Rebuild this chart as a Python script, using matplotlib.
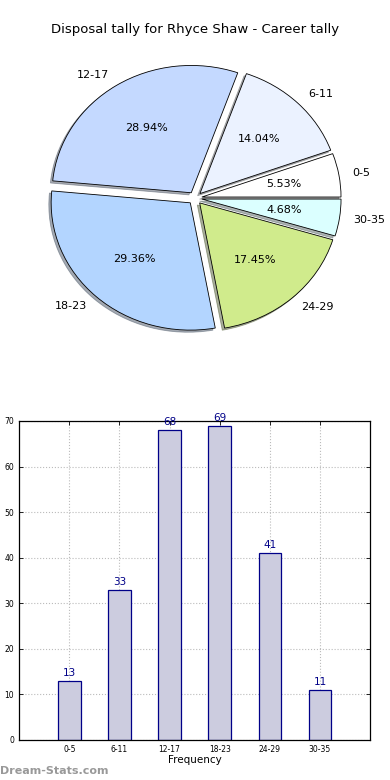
import matplotlib
matplotlib.use("Agg")
import matplotlib.pyplot as plt
import numpy as np

# Disposal bins and counts
bins = ["0-5", "6-11", "12-17", "18-23", "24-29", "30-35"]
counts = [13, 33, 68, 69, 41, 11]
pie_colors = ["#ffffff", "#ebf2ff", "#c4d9ff", "#b3d5ff", "#d0eb8c", "#dbffff"]

fig = plt.figure(figsize=(3.9, 7.8), dpi=100)

# Pie chart
ax1 = fig.add_axes([0.054, 0.542, 0.892, 0.408])
wedges, texts, autotexts = ax1.pie(
    counts, labels=bins, colors=pie_colors, explode=[0.05] * len(counts),
    autopct="%1.2f%%", startangle=0,
    shadow=dict(ox=-0.012, oy=-0.012, shade=0.6),
    wedgeprops=dict(edgecolor="black", linewidth=0.6),
    textprops=dict(fontsize=8),
)
ax1.set_aspect("auto")
fig.text(0.5, 0.962, "Disposal tally for Rhyce Shaw - Career tally",
         ha="center", va="center", fontsize=9.5)

# Bar chart
ax2 = fig.add_axes([0.049, 0.0513, 0.9, 0.409])
x = np.arange(len(bins))
ax2.bar(x, counts, width=0.45, color="#ccccdf", edgecolor="#000088",
        linewidth=0.9, zorder=2)
for xi, c in zip(x, counts):
    ax2.text(xi, c + 0.6, str(c), ha="center", va="bottom",
             color="#000088", fontsize=7.5)
ax2.set_xlim(-1, 6)
ax2.set_ylim(0, 70)
ax2.set_xticks(x)
ax2.set_xticklabels(bins, fontsize=5.5)
ax2.set_yticks(range(0, 71, 10))
ax2.tick_params(axis="y", labelsize=5.5)
ax2.tick_params(direction="in", top=True, right=True, length=3, width=0.6)
ax2.grid(True, linestyle=":", color="#bbbbbb", linewidth=0.8, zorder=0)
ax2.set_axisbelow(True)
ax2.set_xlabel("Frequency", fontsize=7.5, labelpad=1)
for s in ax2.spines.values():
    s.set_linewidth(0.9)

fig.text(0.0, 0.012, "Dream-Stats.com", color="#999999", fontsize=8,
         fontweight="bold", ha="left", va="center")

plt.savefig("out.png", dpi=100)
